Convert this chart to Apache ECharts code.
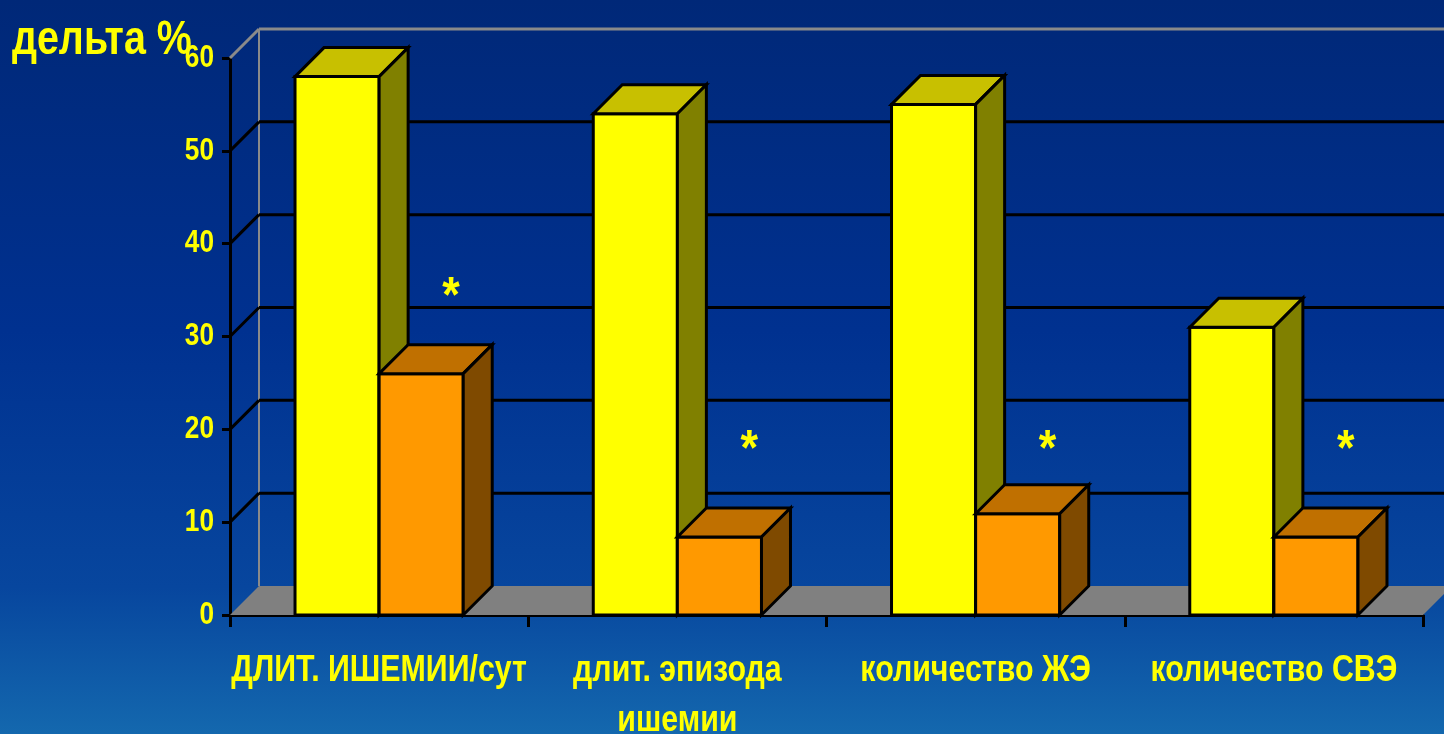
<!DOCTYPE html>
<html>
<head>
<meta charset="utf-8">
<script src="https://cdn.jsdelivr.net/npm/echarts@6/dist/echarts.min.js"></script>
<style>
html,body{margin:0;padding:0;width:1444px;height:734px;overflow:hidden;}
#c{width:1444px;height:734px;}
</style>
</head>
<body>
<div id="c"></div>
<script>
// ---- data ----
const categories = ['ДЛИТ. ИШЕМИИ/сут', 'длит. эпизода\nишемии', 'количество ЖЭ', 'количество СВЭ'];
const seriesYellow = [58, 54, 55, 31];
const seriesOrange = [26, 8.4, 10.9, 8.4];
const starLevels = [35, 18.5, 18.5, 18.5];
const yMin = 0, yMax = 60, yStep = 10;
const yTickLabels = [0, 10, 20, 30, 40, 50, 60];
const titleText = 'дельта %';

// ---- style ----
const FONT = "'Liberation Sans', Arial, sans-serif";
const NARROW = 0.82;
const YEL = '#FFFF00';
const DEPTH = 29;

const chart = echarts.init(document.getElementById('c'));

function wallsRender(params, api) {
  const cs = params.coordSys;
  const x = cs.x, y = cs.y, w = cs.width, h = cs.height;
  const children = [];
  children.push({
    type: 'polygon',
    shape: { points: [[x, y + h], [x + DEPTH, y + h - DEPTH], [x + w + DEPTH, y + h - DEPTH], [x + w, y + h]] },
    style: { fill: '#808080' }
  });
  children.push({
    type: 'line',
    shape: { x1: x + DEPTH, y1: y - DEPTH, x2: x + DEPTH, y2: y + h - DEPTH },
    style: { stroke: '#8a8a8a', lineWidth: 2 }
  });
  yTickLabels.forEach(function (v) {
    if (v === yMin) return;
    const yy = api.coord([0, v])[1];
    const col = v === yMax ? '#8a8a8a' : '#000';
    children.push({
      type: 'line',
      shape: { x1: x, y1: yy, x2: x + DEPTH, y2: yy - DEPTH },
      style: { stroke: col, lineWidth: 3 }
    });
    children.push({
      type: 'line',
      shape: { x1: x + DEPTH, y1: yy - DEPTH, x2: x + w + DEPTH, y2: yy - DEPTH },
      style: { stroke: col, lineWidth: 3 }
    });
  });
  return { type: 'group', children: children };
}

function barRender(side, front, top, right) {
  return function (params, api) {
    const idx = api.value(0);
    const val = api.value(1);
    const pTop = api.coord([idx, val]);
    const pBase = api.coord([idx, 0]);
    const cw = api.size([1, 0])[0];
    const bw = cw * 0.282;
    const c = pTop[0];
    const x0 = side === 0 ? c - bw : c;
    const x1 = side === 0 ? c : c + bw;
    const yt = pTop[1], yb = pBase[1];
    const st = { stroke: '#000', lineWidth: 3, lineJoin: 'miter' };
    return {
      type: 'group',
      children: [
        { type: 'polygon', shape: { points: [[x0, yb], [x0, yt], [x1, yt], [x1, yb]] }, style: Object.assign({ fill: front }, st) },
        { type: 'polygon', shape: { points: [[x0, yt], [x0 + DEPTH, yt - DEPTH], [x1 + DEPTH, yt - DEPTH], [x1, yt]] }, style: Object.assign({ fill: top }, st) },
        { type: 'polygon', shape: { points: [[x1, yt], [x1 + DEPTH, yt - DEPTH], [x1 + DEPTH, yb - DEPTH], [x1, yb]] }, style: Object.assign({ fill: right }, st) }
      ]
    };
  };
}

function starRender(params, api) {
  const idx = api.value(0);
  const p = api.coord([idx, api.value(1)]);
  return {
    type: 'text',
    x: p[0] + 72,
    y: p[1] + 8,
    scaleX: 0.9,
    style: { text: '*', fill: YEL, font: 'bold 50px ' + FONT, align: 'center', verticalAlign: 'middle' }
  };
}

function xLabelRender(params, api) {
  const idx = api.value(0);
  const p = api.coord([idx, yMin]);
  return {
    type: 'text',
    x: p[0],
    y: p[1] + 31,
    scaleX: 0.82,
    style: { text: categories[idx], fill: YEL, font: 'bold 37px ' + FONT, lineHeight: 50, align: 'center', verticalAlign: 'top' }
  };
}

function yLabelRender(params, api) {
  const p = api.coord([0, api.value(1)]);
  return {
    type: 'text',
    x: params.coordSys.x - 16,
    y: p[1],
    scaleX: NARROW,
    style: { text: String(api.value(1)), fill: YEL, font: 'bold 32px ' + FONT, align: 'right', verticalAlign: 'middle' }
  };
}

const option = {
  backgroundColor: {
    type: 'linear', x: 0, y: 0, x2: 0, y2: 1,
    colorStops: [
      { offset: 0, color: '#002878' },
      { offset: 0.45, color: '#003190' },
      { offset: 0.8, color: '#07469e' },
      { offset: 1, color: '#1468ae' }
    ]
  },
  animation: false,
  graphic: [{
    type: 'text', x: 12, y: 17, scaleX: NARROW,
    style: { text: titleText, fill: YEL, font: 'bold 48px ' + FONT, verticalAlign: 'top' }
  }],
  grid: { left: 230, right: 21, top: 58, bottom: 119, containLabel: false, outerBoundsMode: 'none' },
  xAxis: {
    type: 'category',
    data: categories,
    axisLine: { lineStyle: { color: '#000', width: 3 } },
    axisTick: { show: true, length: 12, lineStyle: { color: '#000', width: 3 } },
    axisLabel: { show: false },
    splitLine: { show: false }
  },
  yAxis: {
    type: 'value', min: yMin, max: yMax, interval: yStep,
    axisLine: { show: true, lineStyle: { color: '#000', width: 3 } },
    axisTick: { show: true, length: 8, lineStyle: { color: '#000', width: 3 } },
    axisLabel: { show: false },
    splitLine: { show: false }
  },
  series: [
    { type: 'custom', name: 'walls', renderItem: wallsRender, data: [[0, 0]], clip: false, z: 1, silent: true },
    { type: 'custom', name: 'A', renderItem: barRender(0, '#FFFF00', '#C8C000', '#808000'), data: seriesYellow.map((v, i) => [i, v]), clip: false, z: 2 },
    { type: 'custom', name: 'B', renderItem: barRender(1, '#FF9900', '#C07000', '#7F4A00'), data: seriesOrange.map((v, i) => [i, v]), clip: false, z: 2 },
    { type: 'custom', name: 'stars', renderItem: starRender, data: starLevels.map((v, i) => [i, v]), clip: false, z: 3 },
    { type: 'custom', name: 'xlabels', renderItem: xLabelRender, data: categories.map((c, i) => [i, 0]), clip: false, z: 3, silent: true },
    { type: 'custom', name: 'ylabels', renderItem: yLabelRender, data: yTickLabels.map(v => [0, v]), clip: false, z: 3, silent: true }
  ]
};
chart.setOption(option);
</script>
</body>
</html>
